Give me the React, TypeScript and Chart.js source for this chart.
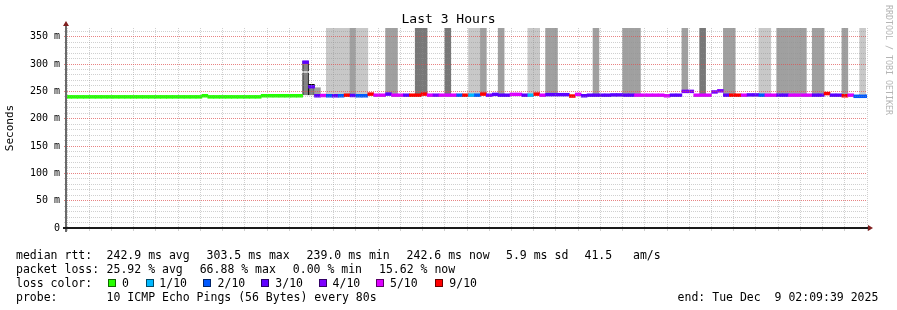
import { useEffect, useRef } from 'react';
import { Chart, registerables } from 'chart.js';

Chart.register(...registerables);

// ---- time axis: seconds relative to Tue Dec 9 00:00 ----
const rangeStartSec = -3021; // 23:09:39
const rangeEndSec = 7779; // 02:09:39
const slotSec = 80; // probe step
const firstSlot = -38; // slot k covers [k*80, k*80+80)

// median rtt (ms) per 80 s slot, from slot -38 to slot 97
const medianMs = [
  240, 240, 240, 240, 240, 240, 240, 240, 240, 240,
  240, 240, 240, 240, 240, 240, 240, 240, 240, 240,
  240, 240, 240, 242, 240, 240, 240, 240, 240, 240,
  240, 240, 240, 242, 242, 242, 242, 242, 242, 242,
  303.5, 258.5, 242, 242.5, 242, 242, 242, 243, 242.5, 242,
  242, 245, 243, 243, 245, 243, 243, 243, 243, 243,
  245, 243, 243, 243, 243, 243, 243, 243, 243, 243,
  245, 243, 244.5, 243, 243, 244.5, 244.5, 243, 243, 245,
  243, 244, 244, 244, 244, 241.5, 244.5, 242, 243, 243,
  243, 243, 243.5, 243.5, 243, 243, 243, 243, 243, 243,
  243, 242, 243, 243, 250, 250, 243, 243, 243, 249,
  251, 243, 243, 243, 243, 243.5, 243.5, 243, 243, 243,
  243, 243, 243, 243, 243, 243, 243, 243, 246, 243,
  243, 242, 243, 241, 241, 241,
];

// lost pings out of 10 per slot
const lossTenths = [
  0, 0, 0, 0, 0, 0, 0, 0, 0, 0,
  0, 0, 0, 0, 0, 0, 0, 0, 0, 0,
  0, 0, 0, 0, 0, 0, 0, 0, 0, 0,
  0, 0, 0, 0, 0, 0, 0, 0, 0, 0,
  3, 3, 3, 5, 2, 3, 2, 9, 3, 2,
  2, 9, 5, 5, 3, 5, 5, 3, 9, 9,
  9, 5, 4, 5, 5, 5, 2, 9, 1, 2,
  9, 4, 3, 3, 3, 5, 5, 3, 1, 9,
  5, 3, 3, 3, 3, 9, 5, 3, 3, 3,
  3, 3, 3, 3, 3, 3, 5, 5, 5, 5,
  5, 5, 3, 3, 4, 4, 5, 5, 5, 4,
  4, 3, 9, 9, 5, 3, 3, 2, 5, 5,
  3, 3, 5, 5, 5, 5, 3, 3, 9, 3,
  3, 9, 5, 2, 2, 2,
];

// smoke (ping spread) pieces: slot, bottom and top of spread (ms, > 366 is off the graph), shade
const smokeSlots = [2, 2, 3, 4, 6, 7, 8, 9, 10, 11, 12, 16, 17, 21, 22, 26, 30, 31, 32, 35, 40, 41, 43, 44, 51, 56, 57, 58, 66, 69, 73, 74, 79, 80, 82, 83, 84, 85, 86, 88, 89, 93, 96];
const smokeLowMs = [243, 286.5, 243, 242, 242, 242, 242, 243, 242.5, 242, 242, 245, 243, 243, 245, 243, 243, 243, 245, 243, 243, 245, 244, 244, 243, 243, 243, 243, 250, 243, 243, 243, 243, 243, 243, 243, 243, 243, 243, 243, 243, 242, 241];
const smokeTopMs = [284.5, 305, 263, 256.7, 420, 420, 420, 420, 420, 420, 420, 420, 420, 420, 420, 420, 420, 420, 420, 420, 420, 420, 420, 420, 420, 420, 420, 420, 420, 420, 420, 420, 420, 420, 420, 420, 420, 420, 420, 420, 420, 420, 420];
const smokeShade = [3, 3, 3, 1, 0, 0, 0, 0, 1, 0, 0, 1, 1, 2, 2, 2, 0, 0, 1, 1, 0, 0, 1, 1, 1, 1, 1, 1, 1, 2, 1, 1, 0, 0, 1, 1, 1, 1, 1, 1, 1, 1, 0];
// 0 none, 1 sides only, 2 sides and top
const smokeOutline = [1, 2, 2];

const yTickStep = 10;
const yLabelStep = 50;
const xTickStepSec = 300;
const xLabelStepSec = 1200;
const yMaxMs = 366;

const lossLevels = [0, 1, 2, 3, 4, 5, 9];
const lossLabels = ['0', '1/10', '2/10', '3/10', '4/10', '5/10', '9/10'];
const lossColorList = ['#26ff00', '#00b8ff', '#0059ff', '#5e00ff', '#7e00ff', '#dd00ff', '#ff0000'];

const rttStats = ['median rtt:', '242.9 ms avg', '303.5 ms max', '239.0 ms min', '242.6 ms now', '5.9 ms sd', '41.5   am/s'];
const lossStats = ['packet loss:', '25.92 % avg', '66.88 % max', '0.00 % min', '15.62 % now'];
const probeLine = ['probe:', '10 ICMP Echo Pings (56 Bytes) every 80s'];
const endLine = 'end: Tue Dec  9 02:09:39 2025';
const titleText = 'Last 3 Hours';
const yTitle = 'Seconds';
const watermark = 'RRDTOOL / TOBI OETIKER';

// ---- styling ----
const MONO = '"DejaVu Sans Mono", monospace';
const shadeColors = ['#c8c8c8', '#a0a0a0', '#787878', '#848484'];
const MAJOR = 'rgba(222,79,79,0.7)';
const MINOR = 'rgba(143,143,143,0.42)';
const bandHalf = 2.6;

const colorForLoss = (l: number) => lossColorList[lossLevels.indexOf(l)] || '#000';

const fmtTime = (v: number) => {
  const s = ((v % 86400) + 86400) % 86400;
  const h = Math.floor(s / 3600);
  const m = Math.floor((s % 3600) / 60);
  return `${String(h).padStart(2, '0')}:${String(m).padStart(2, '0')}`;
};

const rrdPlugin = {
  id: 'rrdDecor',
  afterDraw(chart: any) {
    const ctx: CanvasRenderingContext2D = chart.ctx;
    const { left, right, top, bottom } = chart.chartArea;
    ctx.save();
    // axes
    ctx.fillStyle = '#6a6a6a';
    ctx.fillRect(left - 2, top - 2, 2, bottom - top + 6);
    ctx.fillStyle = '#1a1a1a';
    ctx.fillRect(left - 4, bottom - 1, right - left + 6, 2);
    // arrows
    ctx.fillStyle = '#801f1f';
    ctx.beginPath();
    ctx.moveTo(left - 4, top - 2);
    ctx.lineTo(left + 2, top - 2);
    ctx.lineTo(left - 1, top - 7);
    ctx.closePath();
    ctx.fill();
    ctx.beginPath();
    ctx.moveTo(right + 1, bottom - 3);
    ctx.lineTo(right + 1, bottom + 3);
    ctx.lineTo(right + 6, bottom);
    ctx.closePath();
    ctx.fill();

    // legend
    ctx.fillStyle = '#000';
    ctx.font = `11.5px ${MONO}`;
    ctx.textBaseline = 'alphabetic';
    ctx.textAlign = 'left';
    const rows = [259.2, 273.1, 287.0, 300.9];
    const rttX = [16, 106.6, 206.6, 306.6, 406.6, 506, 584.5];
    rttStats.forEach((t, i) => ctx.fillText(t, rttX[i], rows[0]));
    const lossX = [16, 106.6, 199.7, 292.8, 379];
    lossStats.forEach((t, i) => ctx.fillText(t, lossX[i], rows[1]));
    ctx.fillText('loss color:', 16, rows[2]);
    const boxX = [108, 146, 202.5, 261, 319, 376, 435];
    const labX = [122, 159.3, 217.6, 275.3, 332.6, 390, 449.3];
    lossLabels.forEach((t, i) => {
      ctx.fillStyle = lossColorList[i];
      ctx.fillRect(Math.round(boxX[i]), 279, 8, 8);
      ctx.strokeStyle = 'rgba(0,0,0,0.6)';
      ctx.lineWidth = 1;
      ctx.strokeRect(Math.round(boxX[i]) + 0.5, 279.5, 7, 7);
      ctx.fillStyle = '#000';
      ctx.fillText(t, labX[i], rows[2]);
    });
    ctx.fillText(probeLine[0], 16, rows[3]);
    ctx.fillText(probeLine[1], 106.6, rows[3]);
    ctx.fillText(endLine, 677.6, rows[3]);

    // watermark
    ctx.fillStyle = '#b4b4b4';
    ctx.font = `8.3px ${MONO}`;
    ctx.textBaseline = 'middle';
    ctx.translate(888.5, 5);
    ctx.rotate(Math.PI / 2);
    ctx.fillText(watermark, 0, 0);
    ctx.restore();
  },
};

export default function App() {
  const ref = useRef<HTMLCanvasElement>(null);
  useEffect(() => {
    const canvas = ref.current;
    if (!canvas) return;
    const medianData = medianMs.map((m, i) => ({
      x: (firstSlot + i) * slotSec + slotSec / 2,
      y: [m - bandHalf, m + bandHalf],
    }));
    const medianColors = lossTenths.map(colorForLoss);
    const smokeData = smokeSlots.map((s, i) => ({
      x: s * slotSec + slotSec / 2,
      y: [smokeLowMs[i], smokeTopMs[i]],
    }));
    const smokeBorders = smokeSlots.map((_, i) => {
      const o = smokeOutline[i] || 0;
      if (o === 0) return 0;
      return { top: o === 2 ? 1 : 0, left: 1, right: 1, bottom: 0 };
    });

    const gridColor = (c: any) =>
      c.tick && Math.abs(c.tick.value % (c.scale.axis === 'x' ? xLabelStepSec : yLabelStep)) < 1e-6 ? MAJOR : MINOR;

    const chart = new Chart(canvas, {
      type: 'bar',
      data: {
        datasets: [
          {
            label: 'median',
            data: medianData as any,
            backgroundColor: medianColors,
            borderWidth: 0,
            grouped: false,
            barPercentage: 1,
            categoryPercentage: 1,
          } as any,
          {
            label: 'smoke',
            data: smokeData as any,
            backgroundColor: smokeShade.map((k) => shadeColors[k]),
            borderColor: '#000',
            borderWidth: smokeBorders as any,
            borderSkipped: false,
            grouped: false,
            barPercentage: 1,
            categoryPercentage: 1,
          } as any,
        ],
      },
      options: {
        animation: false,
        responsive: false,
        devicePixelRatio: 1,
        events: [],
        layout: { padding: 0 },
        plugins: {
          legend: { display: false },
          tooltip: { enabled: false },
          title: {
            display: true,
            text: titleText,
            color: '#000',
            font: { family: MONO, size: 13, weight: 'normal' },
            padding: { top: 11.5, bottom: 0.9 },
          },
        },
        scales: {
          x: {
            type: 'linear',
            offset: false,
            min: rangeStartSec,
            max: rangeEndSec,
            afterFit: (s: any) => {
              s.height = 82;
            },
            ticks: {
              stepSize: xTickStepSec,
              includeBounds: false,
              autoSkip: false,
              maxRotation: 0,
              minRotation: 0,
              padding: 0,
              color: '#000',
              font: { family: MONO, size: 10 },
              callback: (v: any) => (Math.abs(v % xLabelStepSec) < 1e-6 ? fmtTime(v) : ''),
            },
            grid: { offset: false, color: gridColor, tickColor: gridColor, lineWidth: 1, tickLength: 3, z: 1 },
            border: { display: false, dash: [1, 1] },
          },
          y: {
            type: 'linear',
            min: 0,
            max: yMaxMs,
            afterFit: (s: any) => {
              s.width = 67;
            },
            title: {
              display: true,
              text: yTitle,
              color: '#000',
              font: { family: MONO, size: 11 },
              padding: { top: 4, bottom: 0 },
            },
            ticks: {
              stepSize: yTickStep,
              includeBounds: false,
              autoSkip: false,
              padding: 4,
              color: '#000',
              font: { family: MONO, size: 10 },
              callback: (v: any) => (v % yLabelStep === 0 ? (v === 0 ? '0' : `${v} m`) : ''),
            },
            grid: { color: gridColor, tickColor: gridColor, lineWidth: 1, tickLength: 3, z: 1 },
            border: { display: false, dash: [1, 1] },
          },
          y2: {
            position: 'right',
            display: true,
            afterFit: (s: any) => {
              s.width = 30;
            },
            grid: { display: false, drawTicks: false },
            ticks: { display: false },
            border: { display: false },
          },
        },
      } as any,
      plugins: [rrdPlugin],
    });
    return () => chart.destroy();
  }, []);
  return (
    <div style={{ position: 'fixed', left: 0, top: 0, width: 897, height: 310, background: '#fff' }}>
      <canvas ref={ref} width={897} height={310} style={{ display: 'block', width: 897, height: 310 }} />
    </div>
  );
}
